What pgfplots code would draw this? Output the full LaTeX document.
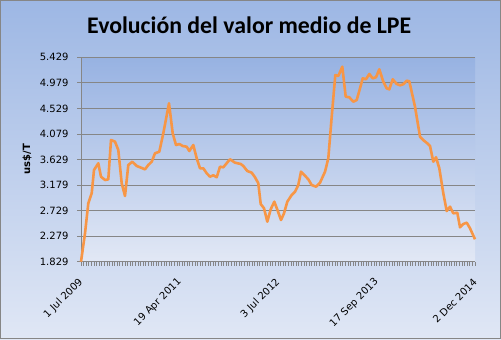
\documentclass[border=0pt]{standalone}
\usepackage{pgfplots}
\pgfplotsset{compat=1.18}
\usepackage{fontspec}
\setmainfont{DejaVu Sans}
\newfontfamily\titlefont{Carlito}
\definecolor{lineor}{HTML}{F79646}
\definecolor{gridg}{HTML}{868686}
\definecolor{bgtop}{HTML}{9DB7E4}
\definecolor{bgbot}{HTML}{E0E7F5}
\definecolor{patop}{HTML}{97B2E2}
\definecolor{pabot}{HTML}{E2E8F5}
\begin{document}
\begin{tikzpicture}[x=1bp,y=1bp]
\shade[top color=bgtop,bottom color=bgbot] (0,0) rectangle (501,339);
\node[anchor=base,font=\titlefont\fontsize{23.8bp}{26bp}\selectfont\bfseries] at (249.2,305.7) {Evolución del valor medio de LPE};
\node[rotate=90,font=\fontsize{10bp}{12bp}\selectfont\bfseries] at (27,180) {us\$/T};
\begin{axis}[
  at={(81bp,281.7bp)}, anchor=north west,
  scale only axis, width=394bp, height=204.4bp,
  xmin=0, xmax=394, ymin=1.829, ymax=5.429,
  axis background/.style={top color=patop,bottom color=pabot},
  axis x line*=bottom, axis y line*=left,
  axis line style={gridg,line width=0.9bp},
  every tick/.style={gridg,line width=0.8bp},
  tick align=outside,
  major tick length=4bp, minor tick length=4bp,
  ytick={1.829,2.279,2.729,3.179,3.629,4.079,4.529,4.979,5.429},
  yticklabels={1.829,2.279,2.729,3.179,3.629,4.079,4.529,4.979,5.429},
  xtick={0,98.5,197,295.5,394},
  xticklabels={1 Jul 2009,19 Apr 2011,3 Jul 2012,17 Sep 2013,2 Dec 2014},
  minor x tick num=37,
  ymajorgrids, grid style={gridg,line width=0.9bp},
  tick label style={font=\fontsize{10bp}{12bp}\selectfont, text=black},
  x tick label style={yshift=-14bp, xshift=1bp, rotate=45, anchor=east, inner sep=1bp},
  y tick label style={xshift=-5bp},
  clip=false,
]
\addplot[lineor, line width=2.6bp, line join=round] coordinates {
(0,1.829) (4,2.329) (7.3,2.858) (10.7,3.034) (13,3.444) (17.3,3.562) (20,3.326) (24,3.268) (27.3,3.280) (30,3.973) (34,3.943) (37.3,3.796) (40.7,3.210) (44,2.986) (47.3,3.532) (51.3,3.590) (55.7,3.515) (59,3.492) (64,3.456) (67.3,3.532) (70.7,3.590) (74,3.738) (78.3,3.766) (82.3,4.090) (88,4.619) (91.7,4.090) (95,3.884) (98.3,3.902) (101.7,3.867) (105.7,3.854) (108.3,3.779) (112.3,3.884) (115.7,3.650) (119,3.474) (122.3,3.474) (125.7,3.386) (129,3.326) (132.3,3.351) (135.7,3.316) (139,3.502) (142.3,3.492) (149,3.633) (154,3.573) (159.7,3.550) (162.3,3.515) (166.3,3.426) (170.7,3.397) (174,3.316) (177.3,3.210) (179.7,2.845) (183,2.770) (186.3,2.534) (189.7,2.752) (193.3,2.886) (196.7,2.727) (200,2.563) (203,2.681) (206.3,2.886) (210.7,3.004) (214,3.062) (217.3,3.180) (220,3.414) (223.3,3.356) (227.3,3.280) (230.7,3.180) (235,3.150) (239,3.220) (244,3.414) (247.3,3.650) (250.7,4.383) (254.3,5.117) (257.3,5.100) (261.3,5.263) (264.7,4.735) (268.3,4.725) (272.3,4.647) (275.7,4.677) (279,4.883) (281.7,5.059) (285,5.042) (288.3,5.135) (291.7,5.059) (295,5.077) (298.3,5.218) (302.3,4.999) (305.7,4.883) (308.3,4.865) (311.7,5.042) (315.7,4.959) (319,4.936) (322.3,4.954) (325.7,5.017) (328.3,5.006) (334,4.559) (339,4.031) (343,3.960) (346.3,3.914) (349,3.867) (352.3,3.590) (355,3.668) (358.3,3.474) (362.3,3.034) (365.7,2.722) (369,2.798) (372.3,2.681) (376.3,2.692) (379,2.435) (382.3,2.493) (385.7,2.516) (389,2.417) (394,2.224)
};
\end{axis}
\draw[gridg,line width=1.2bp] (0.6,0.6) rectangle (500.4,338.4);
\pgfresetboundingbox
\useasboundingbox (0,0) rectangle (501,339);
\end{tikzpicture}
\end{document}
